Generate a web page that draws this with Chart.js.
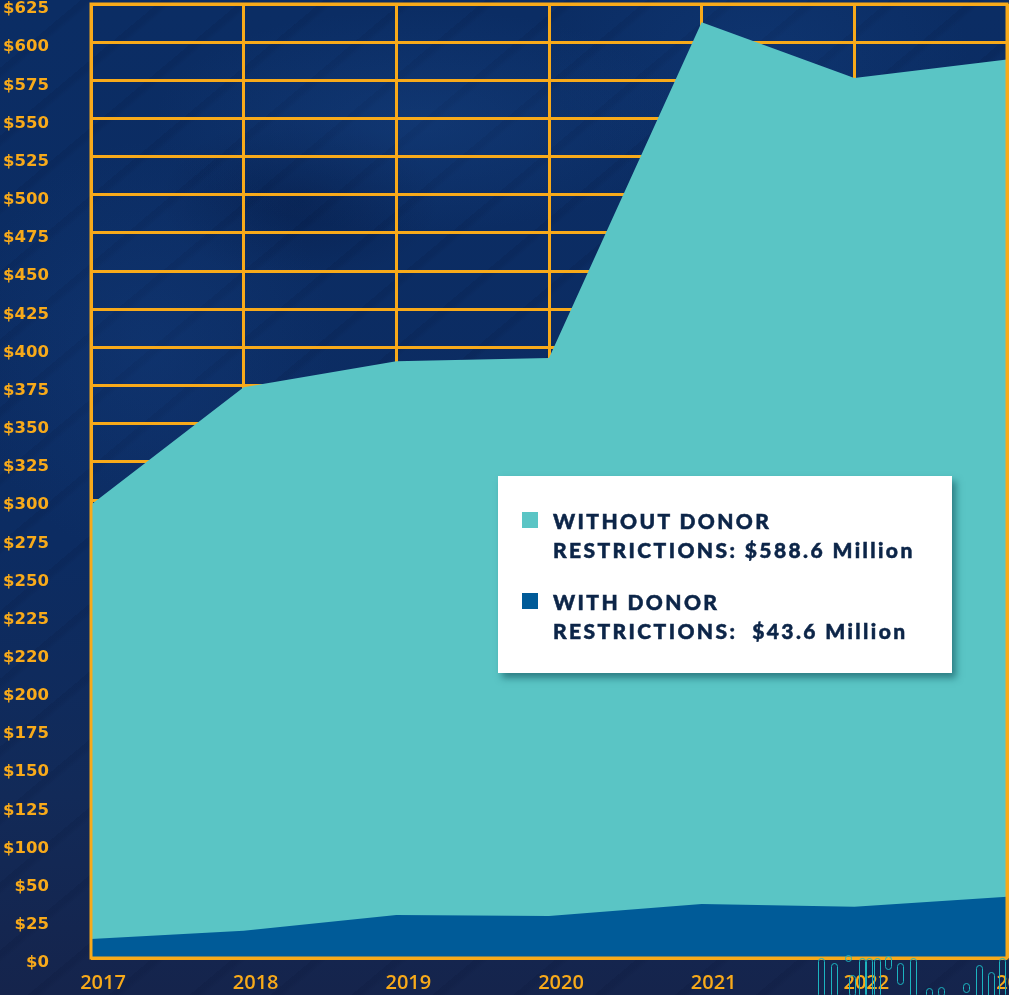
<!DOCTYPE html>
<html>
<head>
<meta charset="utf-8">
<script src="https://cdn.jsdelivr.net/npm/chart.js@4.4.1/dist/chart.umd.min.js"></script>
<style>
  html, body { margin: 0; padding: 0; }
  body {
    width: 1009px; height: 995px; overflow: hidden; position: relative;
    background:
      radial-gradient(ellipse 380px 160px at 420px 120px, rgba(30,80,150,0.28), transparent 70%),
      radial-gradient(ellipse 300px 200px at 760px 60px, rgba(25,75,145,0.25), transparent 70%),
      radial-gradient(ellipse 260px 300px at 150px 350px, rgba(25,70,140,0.25), transparent 70%),
      radial-gradient(ellipse 200px 120px at 300px 200px, rgba(0,10,40,0.25), transparent 70%),
      repeating-linear-gradient(140deg, rgba(0,10,40,0.10) 0px, rgba(0,10,40,0.10) 5px, transparent 10px, transparent 52px),
      linear-gradient(180deg, #0b2d64 0%, #0c2c62 55%, #122a58 80%, #15244c 100%);
  }
  #wrap { position: absolute; left: 0; top: 0; width: 1009px; height: 995px; }
  #legend {
    position: absolute; left: 498px; top: 476px; width: 454px; height: 197px;
    background: #ffffff; box-sizing: border-box; padding: 30px 0 0 24px;
    box-shadow: 4px 5px 7px rgba(10, 70, 80, 0.55);
    font-family: "Lato", "Open Sans", sans-serif; font-weight: 900;
    font-size: 21px; line-height: 29px; color: #0c2548; letter-spacing: 2.4px;
    -webkit-text-stroke: 0.5px #0c2548;
  }
  .item { display: flex; align-items: flex-start; margin-bottom: 23px; }
  .sw { width: 16px; height: 16px; margin-top: 6px; margin-right: 15px; flex: none; }
  .txt { white-space: pre; }
  .deco { position: absolute; border: 1.6px solid #1cb4c0; border-radius: 5px; box-sizing: border-box; width: 7px; }
</style>
</head>
<body>
<div id="wrap"><canvas id="c" width="1009" height="995"></canvas></div>
<div id="decos"></div>
<div id="legend"></div>
<script>
// ---- data ----
const years = ['2017', '2018', '2019', '2020', '2021', '2022', '2023'];
const withoutDonor = [297, 374, 391, 393, 613, 576.5, 588.6];
const withDonor = [12.4, 17.9, 28.2, 27.5, 35.4, 33.6, 40.2];
const yTickLabels = ['$0', '$25', '$50', '$100', '$125', '$150', '$175', '$200', '$220', '$225',
  '$250', '$275', '$300', '$325', '$350', '$375', '$400', '$425', '$450', '$475',
  '$500', '$525', '$550', '$575', '$600', '$625'];
const seriesNames = ['WITHOUT DONOR\nRESTRICTIONS: $588.6 Million', 'WITH DONOR\nRESTRICTIONS:  $43.6 Million'];
const seriesColors = ['#5ac5c5', '#005b98'];

const gold = '#f8aa1a';

// legend (HTML)
const lg = document.getElementById('legend');
seriesNames.forEach((n, i) => {
  const it = document.createElement('div'); it.className = 'item';
  const sw = document.createElement('div'); sw.className = 'sw'; sw.style.background = seriesColors[i];
  const tx = document.createElement('div'); tx.className = 'txt'; tx.textContent = n;
  it.appendChild(sw); it.appendChild(tx); lg.appendChild(it);
});

// decorative pills (background ornament, not data)
const decoPills = [[818,958,40],[831,963,35],[845,955,7],[849,975,22],[859,958,40],[866,958,40],[874,958,40],[885,956,14],[897,963,22],[910,958,40],[926,988,10],[938,987,10],[963,983,10],[976,965,35],[988,972,28],[999,958,40]];
const dd = document.getElementById('decos');
decoPills.forEach(p => {
  const d = document.createElement('div'); d.className = 'deco';
  d.style.left = p[0] + 'px'; d.style.top = p[1] + 'px'; d.style.height = p[2] + 'px';
  dd.appendChild(d);
});

const framePlugin = {
  id: 'frame',
  afterDatasetsDraw(chart) {
    const a = chart.chartArea, ctx = chart.ctx;
    ctx.save();
    ctx.strokeStyle = gold; ctx.lineWidth = 3;
    ctx.strokeRect(a.left, a.top, a.right - a.left, a.bottom - a.top);
    ctx.restore();
  }
};

new Chart(document.getElementById('c'), {
  type: 'line',
  data: {
    labels: years,
    datasets: [
      { label: 'Without donor restrictions', data: withoutDonor, backgroundColor: seriesColors[0],
        borderWidth: 0, pointRadius: 0, fill: 'origin', tension: 0, order: 2 },
      { label: 'With donor restrictions', data: withDonor, backgroundColor: seriesColors[1],
        borderWidth: 0, pointRadius: 0, fill: 'origin', tension: 0, order: 1 }
    ]
  },
  options: {
    responsive: false, animation: false, devicePixelRatio: 1,
    layout: { padding: { top: 4, right: 2, left: 0, bottom: 0 } },
    plugins: { legend: { display: false }, tooltip: { enabled: false } },
    scales: {
      x: {
        type: 'category', offset: false,
        grid: { color: gold, lineWidth: 3, drawTicks: false },
        border: { display: false },
        ticks: { color: gold, font: { family: 'Open Sans', weight: '600', size: 20 },
                 padding: 13, labelOffset: 12, maxRotation: 0, autoSkip: false },
        afterFit(s) { s.height = 37; s.paddingLeft = 0; s.paddingRight = 0; }
      },
      y: {
        min: 0, max: 625,
        grid: { color: gold, lineWidth: 3, drawTicks: false },
        border: { display: false },
        ticks: { stepSize: 25, color: gold, font: { family: 'DejaVu Sans', weight: 'bold', size: 16.5 },
                 padding: 42, labelOffset: 5, autoSkip: false,
                 callback: (v, i) => yTickLabels[i] },
        afterFit(s) { s.width = 91; s.paddingTop = 0; s.paddingBottom = 0; }
      }
    }
  },
  plugins: [framePlugin]
});
</script>
</body>
</html>
